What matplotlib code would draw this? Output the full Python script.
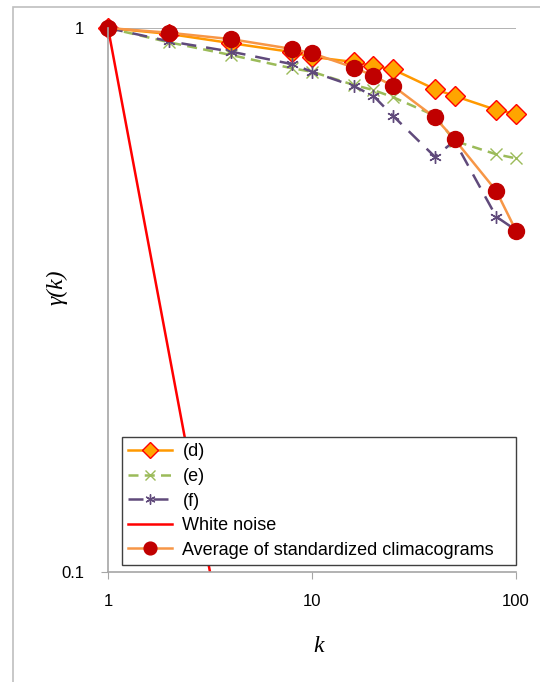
import numpy as np
import matplotlib.pyplot as plt
from matplotlib.patches import Rectangle

# scale k
k = [1, 2, 4, 8, 10, 16, 20, 25, 40, 50, 80, 100]

# climacograms
gamma_d = [1, 0.975, 0.938, 0.903, 0.885, 0.866, 0.852, 0.839, 0.772, 0.750, 0.707, 0.695]
gamma_e = [1, 0.941, 0.892, 0.843, 0.831, 0.786, 0.769, 0.746, 0.690, 0.620, 0.586, 0.576]
gamma_f = [1, 0.945, 0.905, 0.858, 0.831, 0.782, 0.750, 0.689, 0.580, 0.620, 0.450, 0.425]
gamma_avg = [1, 0.980, 0.954, 0.915, 0.899, 0.846, 0.817, 0.782, 0.685, 0.624, 0.502, 0.424]

k_wn = [1, 2, 4]
gamma_wn = [1, 0.25, 0.0625]

fig = plt.figure(figsize=(5.4, 6.82), dpi=100)
ax = fig.add_axes([108/540, 1 - 572/682, 408/540, 544/682])

# border of the chart area
fig.patches.append(Rectangle((13/540, -0.1), 1.2, 1 - 7/682 + 0.1, transform=fig.transFigure,
                             fill=False, edgecolor='#BFBFBF', linewidth=1.2))

ax.plot(k, gamma_d, color='#FF9900', lw=1.8, marker='D', ms=10,
        mfc='#FFA500', mec='#FF0000', mew=1.0, label='(d)', clip_on=False)
ax.plot(k, gamma_e, color='#9BBB59', lw=1.8, ls=(0, (4, 2.5)), marker='x', ms=9,
        mew=1.0, label='(e)', clip_on=False)
ax.plot(k, gamma_f, color='#604A7B', lw=1.8, ls=(0, (6, 4)), marker=(6, 2, 0), ms=9,
        mew=1.0, label='(f)', clip_on=False)
ax.plot(k_wn, gamma_wn, color='#FF0000', lw=1.8, label='White noise')
ax.plot(k, gamma_avg, color='#F79646', lw=1.8, marker='o', ms=11.5,
        mfc='#C00000', mec='#C00000', label='Average of standardized climacograms',
        clip_on=False)

ax.set_xscale('log')
ax.set_yscale('log')
ax.set_xlim(1, 100)
ax.set_ylim(0.1, 1)

ax.set_xticks([1, 10, 100])
ax.set_xticklabels(['1', '10', '100'])
ax.set_yticks([0.1, 1])
ax.set_yticklabels(['0.1', '1'])
ax.minorticks_off()
ax.tick_params(axis='both', colors='#A6A6A6', labelcolor='black', length=5,
               labelsize=12)
ax.tick_params(axis='x', pad=11)
ax.tick_params(axis='y', pad=12)
for lab in ax.get_xticklabels() + ax.get_yticklabels():
    lab.set_fontfamily('Liberation Sans')

ax.axhline(1, color='#A6A6A6', lw=1.2, zorder=0)
for s in ['top', 'right']:
    ax.spines[s].set_visible(False)
for s in ['left', 'bottom']:
    ax.spines[s].set_color('#A6A6A6')
    ax.spines[s].set_linewidth(1.2)

ax.set_xlabel('k', fontfamily='Liberation Serif', style='italic', fontsize=17)
ax.set_ylabel('γ(k)', fontfamily='Liberation Serif', style='italic', fontsize=17)
ax.xaxis.set_label_coords(0.515, -0.117)
ax.yaxis.set_label_coords(-0.100, 0.524)

leg = ax.legend(loc='lower left', bbox_to_anchor=(14/408, 7/544, 394/408, 0.2),
                mode='expand', fancybox=False, framealpha=1, edgecolor='#404040',
                prop={'family': 'Liberation Sans', 'size': 13}, handlelength=2.4,
                handletextpad=0.6, labelspacing=0.42, borderpad=0.35, borderaxespad=0,
                markerscale=0.8)
leg.get_frame().set_linewidth(1.0)

fig.savefig('out.png', dpi=100)
